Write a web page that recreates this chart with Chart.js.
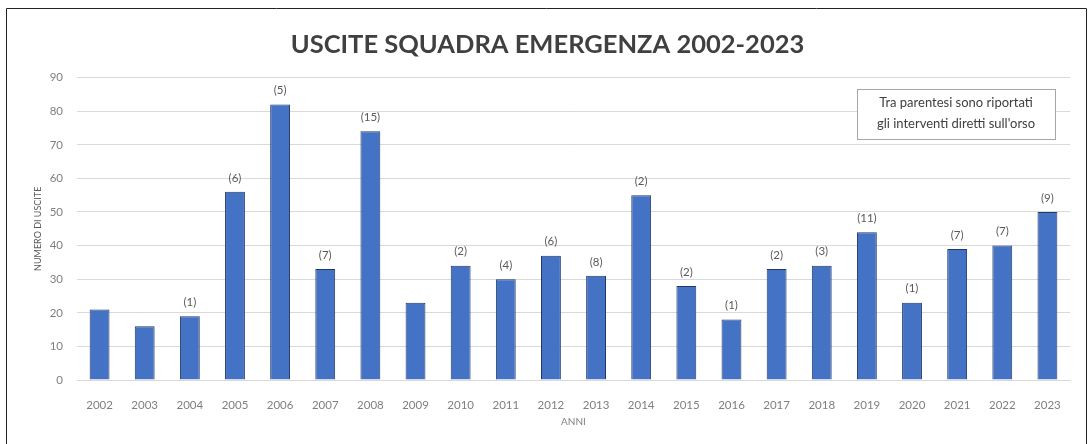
<!DOCTYPE html>
<html><head><meta charset="utf-8">
<script src="https://cdn.jsdelivr.net/npm/chart.js@4.4.1/dist/chart.umd.min.js"></script>
<style>html,body{margin:0;padding:0;background:#fff;}#wrap{position:relative;width:1088px;height:444px;}</style>
</head><body><div id="wrap"><canvas id="c" width="1088" height="444"></canvas></div>
<script>
const years = ['2002','2003','2004','2005','2006','2007','2008','2009','2010','2011','2012','2013','2014','2015','2016','2017','2018','2019','2020','2021','2022','2023'];
const uscite = [21,16,19,56,82,33,74,23,34,30,37,31,55,28,18,33,34,44,23,39,40,50];
const orso = [null,null,1,6,5,7,15,null,2,4,6,8,2,2,1,2,3,11,1,7,7,9];
const yTicks = [0,10,20,30,40,50,60,70,80,90];
const titleText = 'USCITE SQUADRA EMERGENZA 2002-2023';
const noteLines = ['Tra parentesi sono riportati', "gli interventi diretti sull'orso"];
const FONT = 'Lato, "Open Sans", sans-serif';

const extras = {
  id: 'extras',
  afterDatasetsDraw(chart) {
    const ctx = chart.ctx;
    const meta = chart.getDatasetMeta(0);
    ctx.save();
    ctx.font = '11.5px ' + FONT;
    ctx.fillStyle = '#595959';
    ctx.textAlign = 'center';
    ctx.textBaseline = 'middle';
    meta.data.forEach((bar, i) => {
      if (orso[i] !== null) ctx.fillText('(' + orso[i] + ')', bar.x, bar.y - 14);
    });
    // note box
    const x0 = 857, y0 = 89, w = 198, h = 50;
    ctx.fillStyle = '#fff';
    ctx.fillRect(x0, y0, w, h);
    ctx.strokeStyle = '#a6a6a6';
    ctx.lineWidth = 1;
    ctx.strokeRect(x0 + 0.5, y0 + 0.5, w, h);
    ctx.fillStyle = '#404040';
    ctx.font = '13px ' + FONT;
    ctx.fillText(noteLines[0], x0 + w / 2, 103);
    ctx.fillText(noteLines[1], x0 + w / 2, 124);
    // outer border
    ctx.strokeStyle = '#222';
    ctx.beginPath();
    ctx.moveTo(6.5, 444); ctx.lineTo(6.5, 8.5); ctx.lineTo(1086.5, 8.5); ctx.lineTo(1086.5, 444);
    ctx.stroke();
    ctx.restore();
  }
};

new Chart(document.getElementById('c'), {
  type: 'bar',
  data: { labels: years, datasets: [{ data: uscite, backgroundColor: '#4472C4', borderColor: '#1f3864', borderWidth: 1, barPercentage: 0.44, categoryPercentage: 1 }] },
  options: {
    responsive: false, animation: false,
    layout: { padding: { left: 25, right: 18, top: 19, bottom: 8 } },
    plugins: {
      legend: { display: false }, tooltip: { enabled: false },
      title: { display: true, text: titleText, color: '#404040', font: { family: FONT, size: 25.5, weight: 'bold' }, padding: { top: 10, bottom: 18 } }
    },
    scales: {
      x: {
        grid: { display: false }, border: { color: '#d9d9d9' },
        ticks: { color: '#7f7f7f', font: { family: FONT, size: 11.5 }, padding: 10, maxRotation: 0 },
        title: { display: true, text: 'ANNI', color: '#7f7f7f', font: { family: FONT, size: 10 }, padding: { top: 0, bottom: 8 } },
        afterFit(s) { s.height = 56; }
      },
      y: {
        min: 0, max: 90,
        afterBuildTicks(s) { s.ticks = yTicks.map(v => ({ value: v })); },
        grid: { color: '#d9d9d9', drawTicks: false }, border: { display: false },
        ticks: { color: '#7f7f7f', font: { family: FONT, size: 11.5 }, padding: 14 },
        title: { display: true, text: 'NUMERO DI USCITE', color: '#595959', font: { family: FONT, size: 9 }, padding: { top: 8, bottom: 0 } },
        afterFit(s) { s.width = 52; }
      }
    }
  },
  plugins: [extras]
});
</script></body></html>
